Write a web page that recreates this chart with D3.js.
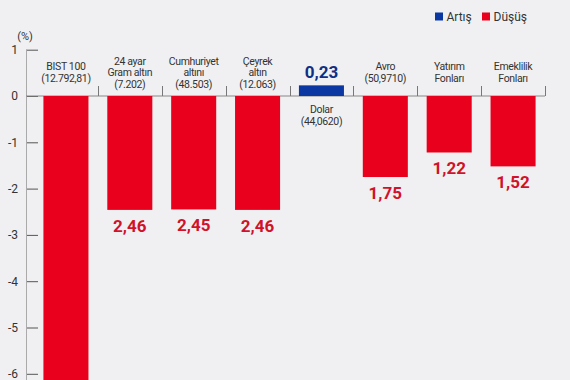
<!DOCTYPE html>
<html><head><meta charset="utf-8">
<script src="https://cdn.jsdelivr.net/npm/d3@7"></script>
<style>
html,body{margin:0;padding:0;background:#f0f0f2;}
svg{display:block;}
</style></head>
<body>
<svg id="chart" width="570" height="380"></svg>
<script>
const categories = ["BIST 100", "24 ayar Gram altın", "Cumhuriyet altını", "Çeyrek altın", "Dolar", "Avro", "Yatırım Fonları", "Emeklilik Fonları"];
const labelLines = [
  ["BIST 100", "(12.792,81)"],
  ["24 ayar", "Gram altın", "(7.202)"],
  ["Cumhuriyet", "altını", "(48.503)"],
  ["Çeyrek", "altın", "(12.063)"],
  ["Dolar", "(44,0620)"],
  ["Avro", "(50,9710)"],
  ["Yatırım", "Fonları"],
  ["Emeklilik", "Fonları"]
];
const values = [-6.9, -2.46, -2.45, -2.46, 0.23, -1.75, -1.22, -1.52];
const valueLabels = ["", "2,46", "2,45", "2,46", "0,23", "1,75", "1,22", "1,52"];
const yTicks = [1, 0, -1, -2, -3, -4, -5, -6];
const legendItems = ["Artış", "Düşüş"];

const RED = "#e8001c", RED_TXT = "#d0122b", BLUE = "#0b37a3", BLUE_TXT = "#0e2f86";
const svg = d3.select("#chart");
const font = "Roboto, 'Liberation Sans', sans-serif";

const x = d3.scaleBand().domain(categories).range([34, 545]).paddingInner(0.295).paddingOuter(0.1475);
const y = d3.scaleLinear().domain([1, -6]).range([49.7, 373.8]);

// y axis
const yAxis = d3.axisRight(y).tickValues(yTicks).tickSize(12).tickFormat("");
const ga = svg.append("g").attr("transform", "translate(26,0)").call(yAxis);
ga.select(".domain").remove();
ga.selectAll(".tick line").attr("stroke", "#555").attr("stroke-width", 1);
svg.append("line").attr("x1", 26.5).attr("x2", 26.5).attr("y1", y(1)).attr("y2", 380)
  .attr("stroke", "#aaa").attr("stroke-width", 1);
svg.selectAll("text.ytl").data(yTicks).join("text").attr("class", "ytl")
  .attr("x", 18).attr("y", d => y(d)).attr("dy", "0.36em").attr("text-anchor", "end")
  .attr("font-family", font).attr("font-size", 12).attr("fill", "#333")
  .text(d => d);
svg.append("text").attr("x", 25).attr("y", 40).attr("text-anchor", "middle")
  .attr("font-family", font).attr("font-size", 11).attr("fill", "#333").text("(%)");

// zero line
svg.append("line").attr("x1", 26).attr("x2", 545).attr("y1", y(0)).attr("y2", y(0))
  .attr("stroke", "#888").attr("stroke-width", 1);
// separator ticks
const seps = categories.map(c => x(c) + x.bandwidth() + x.step() * x.paddingInner() / 2);
svg.selectAll("line.sep").data(seps).join("line").attr("class", "sep")
  .attr("x1", d => Math.round(d) + 0.5).attr("x2", d => Math.round(d) + 0.5)
  .attr("y1", y(0) - 10).attr("y2", y(0)).attr("stroke", "#777");

// bars
svg.selectAll("rect.bar").data(categories).join("rect").attr("class", "bar")
  .attr("x", c => x(c)).attr("width", x.bandwidth())
  .attr("y", (c, i) => values[i] >= 0 ? y(values[i]) : y(0))
  .attr("height", (c, i) => Math.abs(y(values[i]) - y(0)))
  .attr("fill", (c, i) => values[i] >= 0 ? BLUE : RED);

// value labels
svg.selectAll("text.val").data(categories).join("text").attr("class", "val")
  .attr("x", c => x(c) + x.bandwidth() / 2)
  .attr("y", (c, i) => values[i] >= 0 ? y(values[i]) - 7 : y(values[i]) + 22)
  .attr("text-anchor", "middle").attr("font-family", font).attr("font-weight", 700)
  .attr("font-size", 17).attr("fill", (c, i) => values[i] >= 0 ? BLUE_TXT : RED_TXT)
  .text((c, i) => valueLabels[i]);

// category labels
const LH = 11.6;
categories.forEach((c, i) => {
  const lines = labelLines[i];
  const cx = x(c) + x.bandwidth() / 2;
  let y0;
  if (values[i] >= 0) y0 = y(0) + 17;
  else y0 = lines.length === 3 ? 64.5 : 70;
  lines.forEach((l, k) => svg.append("text").attr("x", cx).attr("y", y0 + k * LH)
    .attr("text-anchor", "middle").attr("font-family", font)
    .attr("font-size", 10.5).attr("letter-spacing", -0.35).attr("fill", "#333").text(l));
});

// legend
const lg = svg.append("g");
const lx = [435, 482];
legendItems.forEach((l, i) => {
  lg.append("rect").attr("x", lx[i]).attr("y", 12.5).attr("width", 8).attr("height", 8)
    .attr("fill", i === 0 ? BLUE : RED);
  lg.append("text").attr("x", lx[i] + 11.5).attr("y", 20.5).attr("font-family", font)
    .attr("font-size", 12).attr("fill", "#333").text(l);
});
</script>
</body></html>
